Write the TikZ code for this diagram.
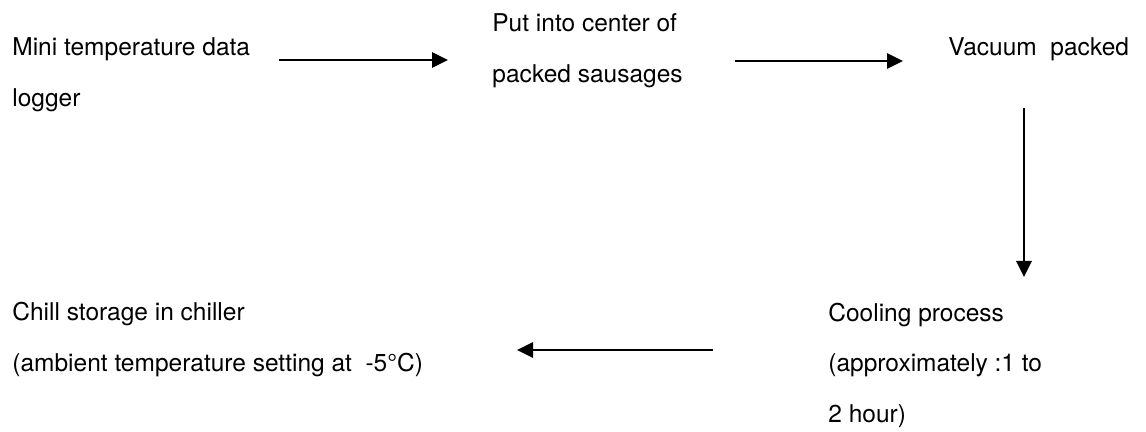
\documentclass[tikz,border=0pt]{standalone}
\usepackage{fontspec}
\setmainfont{TeX Gyre Heros}
\usetikzlibrary{arrows.meta}

\tikzset{
  steptext/.style={anchor=base west, inner sep=0pt, align=left,
    font=\fontsize{12.25}{25.5}\selectfont},
  flow/.style={line width=1.4pt, -{Triangle[length=8pt,width=7.5pt]}}
}

\begin{document}
\begin{tikzpicture}[x=0.5pt,y=-0.5pt]
\useasboundingbox (0,0) rectangle (1146,432);
% steps of the trial (base = last line)
\node[steptext] (logger) at (12,107) {Mini temperature data\\logger};
\node[steptext] (insert) at (492,83) {Put into center of\\packed sausages};
\node[steptext] (vacuum) at (948,56) {Vacuum \ packed};
\node[steptext] (cooling) at (828,423) {Cooling process\\(approximately :1 to\\2 hour)};
\node[steptext] (chill) at (12,372) {Chill storage in chiller\\(ambient temperature setting at \ -5°C)};
% arrow ends
\coordinate (a1) at (279,60);  \coordinate (b1) at (448,60);
\coordinate (a2) at (735,61);  \coordinate (b2) at (903,61);
\coordinate (a3) at (1024,108); \coordinate (b3) at (1024,277);
\coordinate (a4) at (713,350); \coordinate (b4) at (517,350);
\draw[flow] (a1) -- (b1);
\draw[flow] (a2) -- (b2);
\draw[flow] (a3) -- (b3);
\draw[flow] (a4) -- (b4);
\end{tikzpicture}
\end{document}
